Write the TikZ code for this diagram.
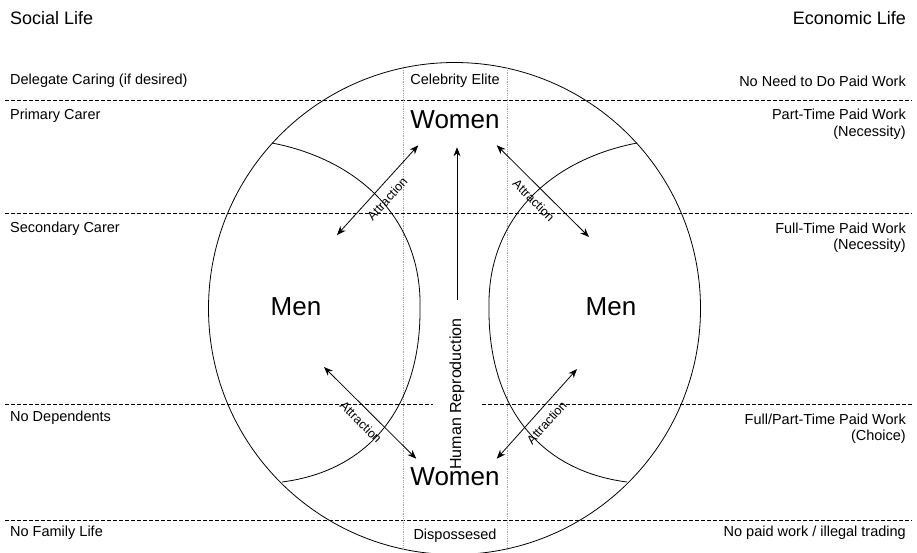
\documentclass[tikz,border=0pt]{standalone}
\usepackage{fontspec}
\setmainfont{Liberation Sans}
\usetikzlibrary{positioning,arrows.meta}

\begin{document}
\begin{tikzpicture}[x=1pt, y=-1pt, every node/.style={font=\fontsize{14.5}{16.5}\selectfont, inner sep=0pt},
    >={Stealth[length=9pt,width=7pt]}]
  \tikzstyle{band}=[dash pattern=on 4pt off 2pt, line width=0.8pt]
  \tikzstyle{chord}=[densely dotted, gray!70, line width=0.8pt]
  \tikzstyle{rim}=[line width=0.8pt]
  \tikzstyle{head}=[font=\fontsize{18}{22}\selectfont]
  \tikzstyle{big}=[font=\fontsize{26}{30}\selectfont]
  \tikzstyle{pull}=[<->, line width=0.8pt]
  \tikzstyle{tag}=[font=\fontsize{12.5}{14}\selectfont, sloped, below=8pt]
  \useasboundingbox (0,0) rectangle (917,552);

  % bands across the page
  \foreach \y in {100,213,520}
    \draw[band] (5,\y) -- (912,\y);
  \draw[band] (5,404) -- (433,404);
  \draw[band] (482,404) -- (912,404);

  % outer circle, chords and the two rims of the men
  \draw[rim] (454.5,308.5) circle (246pt);
  \draw[chord] (403,68) -- (403,549);
  \draw[chord] (507,68) -- (507,549);
  \foreach \s/\dx in {1/0,-1/909}
    \draw[rim, shift={(\dx,0)}, xscale=\s] (272,143) .. controls (360,160) and (422,220) .. (420,308)
      .. controls (421,400) and (375,470) .. (282,482);

  % headings and row labels
  \node[head, anchor=west] (social) at (10,18) {Social Life};
  \node[head, anchor=east] (economic) at (906,18) {Economic Life};
  \node[anchor=west] (delegate) at (10,81) {Delegate Caring (if desired)};
  \node[anchor=west] (primary) at (10,116) {Primary Carer};
  \node[anchor=west] (secondary) at (10,229) {Secondary Carer};
  \node[anchor=west] (nodep) at (10,418) {No Dependents};
  \node[anchor=west] (nofam) at (10,533) {No Family Life};
  \node[anchor=east] (noneed) at (906,81) {No Need to Do Paid Work};
  \node[anchor=east, align=right] (parttime) at (906,124) {Part-Time Paid Work\\(Necessity)};
  \node[anchor=east, align=right] (fulltime) at (906,237.5) {Full-Time Paid Work\\(Necessity)};
  \node[anchor=east, align=right] (choice) at (906,428.5) {Full/Part-Time Paid Work\\(Choice)};
  \node[anchor=east] (nopaid) at (906,533) {No paid work / illegal trading};

  % groups
  \node (elite) at (455,81) {Celebrity Elite};
  \node[big] (wtop) at (455,120) {Women};
  \node[big] (wbot) at (455,477) {Women};
  \node (poor) at (455,536) {Dispossesed};
  \node[big] (mleft) at (296,307) {Men};
  \node[big] (mright) at (611,307) {Men};
  \node[rotate=90, font=\fontsize{16}{18}\selectfont] (repro) at (457,394) {Human Reproduction};

  \coordinate (a1) at (337,235);
  \coordinate (a2) at (589,237);
  \coordinate (a3) at (324,367);
  \coordinate (a4) at (577,369);

  \draw[->, rim] ([yshift=18pt]repro.east) -- ([yshift=-18pt]repro.east |- wtop.south);
  \draw[pull] (a1) -- node[tag] {Attraction} ([shift={(8,16)}]wtop.south west);
  \draw[pull] ([shift={(-3,16)}]wtop.south east) -- node[tag] {Attraction} (a2);
  \draw[pull] (a3) -- node[tag] {Attraction} ([shift={(6,-9)}]wbot.north west);
  \draw[pull] ([shift={(-3,-9)}]wbot.north east) -- node[tag] {Attraction} (a4);
\end{tikzpicture}
\end{document}
